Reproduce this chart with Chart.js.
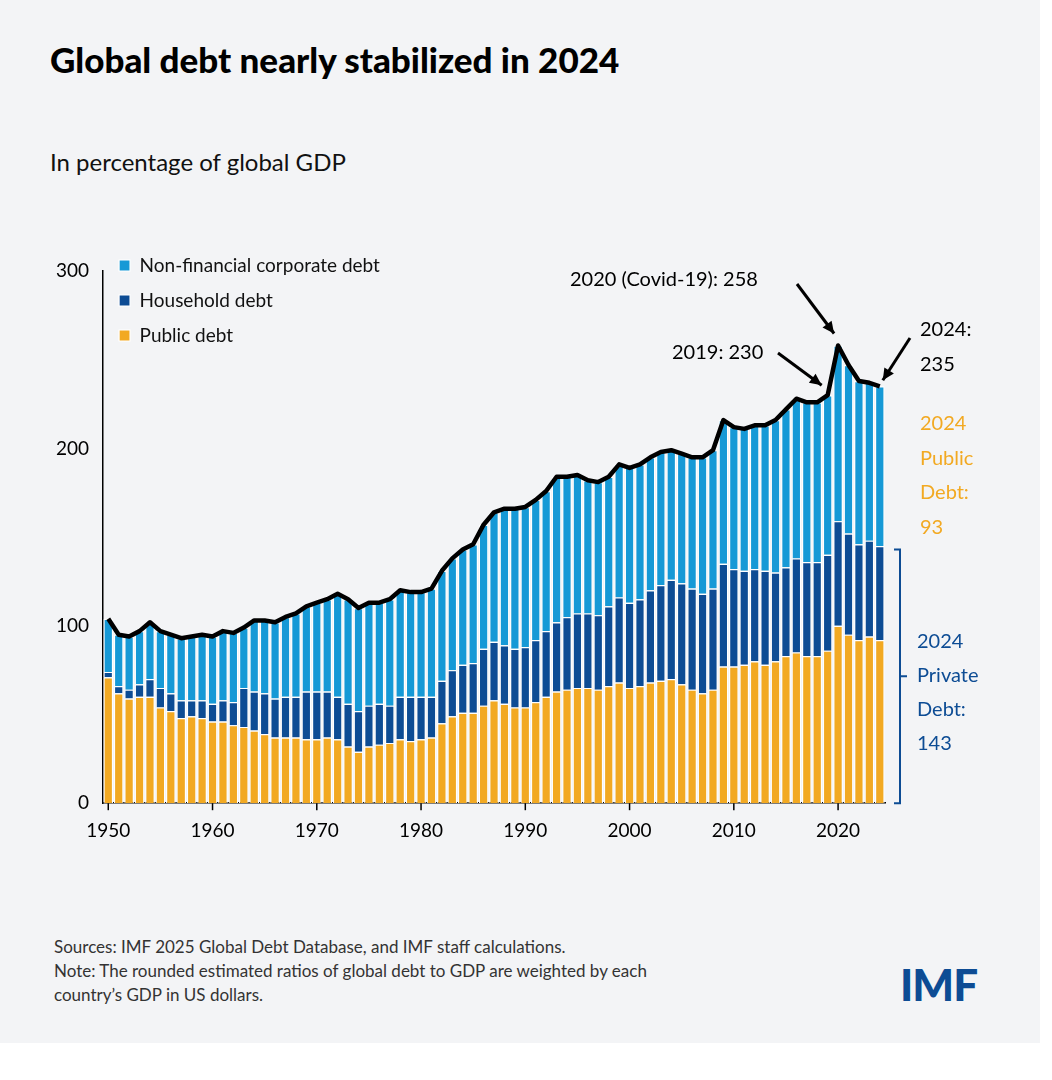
<!DOCTYPE html>
<html lang="en">
<head>
<meta charset="UTF-8">
<script src="https://cdnjs.cloudflare.com/ajax/libs/Chart.js/4.4.1/chart.umd.min.js"></script>
<title>Global debt</title>
<style>
  body { margin: 0; background: #fff; font-family: Lato, sans-serif; }
  .card { position: absolute; left: 0; top: 0; width: 1040px; height: 1043px; background: #f3f4f6; }
  h1 { position: absolute; left: 50px; top: 38px; margin: 0; font-size: 35px; font-weight: 900; color: #000; }
  .sub { position: absolute; left: 50px; top: 147px; font-size: 24px; color: #111; }
  .chartbox { position: absolute; left: 0; top: 240px; width: 1040px; height: 630px; }
  .note { position: absolute; left: 54px; top: 935px; font-size: 17px; line-height: 24px; color: #333; }
  .logo { position: absolute; left: 900px; top: 958px; font-size: 44px; font-weight: 900; color: #0d4c94; letter-spacing: -1px; }
</style>
</head>
<body>
<div class="card">
  <h1>Global debt nearly stabilized in 2024</h1>
  <div class="sub">In percentage of global GDP</div>
  <div class="chartbox"><canvas id="chart" width="1040" height="630"></canvas></div>
  <div class="note">Sources: IMF 2025 Global Debt Database, and IMF staff calculations.<br>Note: The rounded estimated ratios of global debt to GDP are weighted by each<br>country’s GDP in US dollars.</div>
  <div class="logo">IMF</div>
</div>
<script>
  const years = [];
  for (let y = 1950; y <= 2024; y++) years.push(y);

  const total = [104,95,94,97,102,97,95,93,94,95, 94,97,96,99,103,103,102,105,107,111,
    113,115,118,115,110,113,113,115,120,119, 119,121,131,138,143,146,157,164,166,166,
    167,171,176,184,184,185,182,181,184,191, 189,191,195,198,199,197,195,195,199,216,
    212,211,213,213,216,222,228,226,226,230, 258,247,238,237,235];
  const privateDebt = [33,33,35,37,42,43,43,45,45,47, 48,51,52,56,62,64,65,68,70,75,
    77,78,82,83,81,81,80,81,84,84, 83,84,86,89,92,95,102,106,110,112,
    113,114,116,121,120,120,117,117,118,123, 124,125,127,129,129,130,131,133,135,139,
    135,133,133,135,136,139,143,143,143,144, 158,152,146,143,143];
  const corporate = [30,29,30,30,32,32,33,35,36,37, 38,39,39,34,40,41,43,45,47,48,
    50,52,58,59,58,58,57,60,60,59, 59,61,62,63,65,67,70,73,77,79,
    79,79,79,82,79,78,75,75,73,75, 76,76,75,75,73,73,74,77,78,81,
    80,80,81,82,86,89,90,90,90,90, 99,95,92,89,90];
  const household = privateDebt.map((v, i) => v - corporate[i]);
  const publicDebt = total.map((v, i) => v - privateDebt[i]);

  const barStyle = { borderColor: '#ffffff', borderWidth: 1.2, barPercentage: 0.92, categoryPercentage: 1, stack: 'debt' };

  const overlay = {
    id: 'overlay',
    afterDraw(chart) {
      const ctx = chart.ctx, x = chart.scales.x, y = chart.scales.y;
      ctx.save();
      // x ticks
      ctx.strokeStyle = '#000'; ctx.lineWidth = 1.5;
      years.forEach((yr, i) => {
        if (yr % 10 === 0) {
          const px = x.getPixelForValue(i);
          ctx.beginPath(); ctx.moveTo(px, y.bottom); ctx.lineTo(px, y.bottom + 7); ctx.stroke();
        }
      });
      // annotations (canvas starts 240px down the page)
      const off = 240;
      ctx.font = '20px Lato, sans-serif';
      ctx.fillStyle = '#000';
      const arrow = (x1, y1, x2, y2) => {
        ctx.strokeStyle = '#000'; ctx.lineWidth = 3;
        ctx.beginPath(); ctx.moveTo(x1, y1); ctx.lineTo(x2, y2); ctx.stroke();
        const a = Math.atan2(y2 - y1, x2 - x1), h = 13;
        ctx.beginPath();
        ctx.moveTo(x2, y2);
        ctx.lineTo(x2 - h * Math.cos(a - 0.45), y2 - h * Math.sin(a - 0.45));
        ctx.lineTo(x2 - h * Math.cos(a + 0.45), y2 - h * Math.sin(a + 0.45));
        ctx.closePath(); ctx.fill();
      };
      const p19 = [x.getPixelForValue(69), y.getPixelForValue(230)];
      const p20 = [x.getPixelForValue(70), y.getPixelForValue(258)];
      const p24 = [x.getPixelForValue(74), y.getPixelForValue(235)];
      ctx.textAlign = 'left'; ctx.textBaseline = 'middle';
      ctx.fillText('2020 (Covid-19): 258', 570, 280 - off);
      arrow(797, 284 - off, p20[0] - 4, p20[1] - 12);
      ctx.fillText('2019: 230', 672, 353 - off);
      arrow(778, 353 - off, p19[0] - 6, p19[1] - 10);
      ctx.fillText('2024:', 920, 330 - off);
      ctx.fillText('235', 920, 365 - off);
      arrow(910, 338 - off, p24[0] + 3, p24[1] - 6);

      ctx.fillStyle = '#f2a922';
      ['2024', 'Public', 'Debt:', '93'].forEach((t, i) => ctx.fillText(t, 920, 424 - off + i * 34.5));
      ctx.fillStyle = '#0d4c94';
      ['2024', 'Private', 'Debt:', '143'].forEach((t, i) => ctx.fillText(t, 917, 642 - off + i * 34));
      // bracket
      const bx = 900, top = y.getPixelForValue(143), bot = y.getPixelForValue(0);
      ctx.strokeStyle = '#0d4c94'; ctx.lineWidth = 2;
      ctx.beginPath();
      ctx.moveTo(bx - 6, top); ctx.lineTo(bx, top); ctx.lineTo(bx, bot); ctx.lineTo(bx - 6, bot);
      ctx.moveTo(bx, (top + bot) / 2); ctx.lineTo(bx + 7, (top + bot) / 2);
      ctx.stroke();
      ctx.restore();
    }
  };

  const chart = new Chart(document.getElementById('chart'), {
    type: 'bar',
    data: {
      labels: years,
      datasets: [
        { type: 'line', label: 'Total', data: total, borderColor: '#000', borderWidth: 4.5,
          pointRadius: 0, tension: 0, stack: 'total', borderJoinStyle: 'round', order: 0 },
        { label: 'Non-financial corporate debt', data: corporate, backgroundColor: '#1699d6', ...barStyle, order: 3 },
        { label: 'Household debt', data: household, backgroundColor: '#0d4c94', ...barStyle, order: 2 },
        { label: 'Public debt', data: publicDebt, backgroundColor: '#f2a922', ...barStyle, order: 1 }
      ]
    },
    options: {
      responsive: false,
      animation: false,
      layout: { padding: { left: 50, right: 155, top: 31, bottom: 20 } },
      plugins: {
        tooltip: { enabled: false },
        legend: {
          position: 'chartArea',
          align: 'start',
          reverse: true,
          labels: {
            filter: item => item.text !== 'Total',
            boxWidth: 11, boxHeight: 11, padding: 16,
            font: { family: 'Lato', size: 19 }, color: '#111'
          }
        }
      },
      scales: {
        x: {
          stacked: true,
          grid: { display: false },
          border: { color: '#000', width: 1.5 },
          ticks: {
            autoSkip: false, maxRotation: 0, color: '#000', padding: 8,
            font: { family: 'Lato', size: 19 },
            callback: (v, i) => years[i] % 10 === 0 ? years[i] : ''
          }
        },
        y: {
          stacked: true, min: 0, max: 300,
          grid: { display: false, drawTicks: true },
          border: { color: '#000', width: 1.5 },
          ticks: { stepSize: 100, color: '#000', font: { family: 'Lato', size: 19 }, padding: 6 }
        }
      }
    },
    plugins: [overlay]
  });
</script>
</body>
</html>
